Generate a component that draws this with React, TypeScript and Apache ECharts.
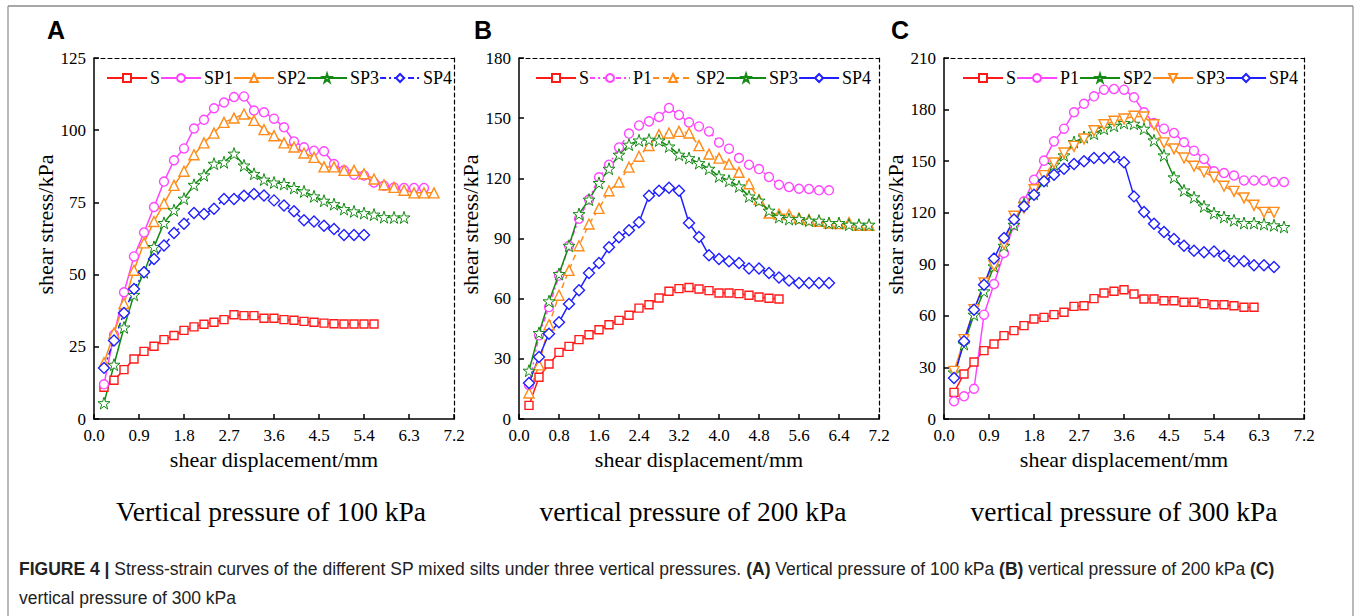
import React, { useEffect, useRef } from 'react';
import * as echarts from 'echarts';

// shear displacement steps (mm)
const displacement = [0.2, 0.4, 0.6, 0.8, 1.0, 1.2, 1.4, 1.6, 1.8, 2.0, 2.2, 2.4, 2.6, 2.8, 3.0, 3.2, 3.4, 3.6, 3.8, 4.0, 4.2, 4.4, 4.6, 4.8, 5.0, 5.2, 5.4, 5.6, 5.8, 6.0, 6.2, 6.4, 6.6, 6.8, 7.0];

// Panel A: vertical pressure 100 kPa
const aS = [11, 13.4, 17.1, 20.8, 23.4, 25.2, 27.5, 28.9, 30.7, 31.9, 32.8, 33.5, 34.4, 36.1, 35.8, 35.8, 34.9, 34.9, 34.4, 34.2, 33.8, 33.5, 33.2, 33.0, 32.9, 32.9, 32.9, 32.9];
const aSP1 = [12, 29.2, 43.9, 56.3, 64.6, 73.4, 82.2, 89.6, 93.7, 100.6, 103.6, 107.6, 109.6, 111.5, 111.7, 106.8, 106.2, 104, 101, 96.1, 94.1, 92.9, 92.7, 88.3, 86.1, 84.6, 84.3, 81.9, 80.8, 80.2, 80, 80, 80];
const aSP2 = [19.5, 29.8, 40, 51.5, 61, 68.4, 74.6, 80.9, 85.8, 91.5, 95.6, 99, 102.7, 104.2, 105.6, 103.4, 100.2, 98.1, 95.6, 94.2, 92.1, 90.6, 87.3, 87.3, 86.1, 86.1, 84.9, 83.1, 81.1, 80.2, 79.2, 78.3, 78.3, 78.3];
const aSP3 = [5.5, 18.8, 31.7, 43, 50.8, 59.6, 67.9, 72.3, 76.3, 81.1, 84.4, 88.4, 88.9, 91.9, 87.8, 84.9, 82.9, 81.9, 81.4, 80, 78.8, 77.1, 75.6, 74.4, 72.7, 71.9, 71.3, 70.8, 69.9, 69.8, 69.8];
const aSP4 = [17.7, 27.2, 36.7, 45, 50.8, 55.4, 60.1, 64.4, 67.6, 71.3, 71, 72.8, 76.2, 76.2, 77.3, 77.9, 77.4, 75.7, 73.9, 71.9, 68.8, 68.4, 66.9, 65.8, 63.7, 63.7, 63.7];

// Panel B: vertical pressure 200 kPa
const bS = [6.8, 20.8, 27.4, 33.2, 36.2, 39.6, 42, 44.5, 47, 49.2, 51.7, 55.3, 57, 60.3, 63.7, 65, 65.6, 64.8, 64, 62.8, 62.8, 62.5, 61.7, 60.8, 60.2, 59.8];
const bP1 = [17, 41.7, 55.8, 71.5, 86.4, 99.9, 109.4, 120.5, 126.8, 135.4, 142.3, 146.4, 148.4, 150.6, 155.1, 151.6, 147.9, 145.9, 143.4, 137.9, 134.8, 130.1, 126.8, 124.6, 120.7, 116.8, 115.7, 114.8, 114.7, 114, 114];
const bSP2 = [13, 27, 47, 61.7, 74.1, 86.4, 97.2, 105, 113.8, 118.2, 125.6, 131, 136.4, 141.8, 142.6, 143.4, 142.6, 136.3, 132.1, 130.1, 127.1, 123, 117.3, 109.4, 102.7, 102.2, 101.9, 100.2, 99.4, 98.6, 97.7, 97.4, 98, 96.6, 96.6];
const bSP3 = [24.1, 42.9, 58.7, 72.3, 86.4, 102.2, 109.4, 117.7, 124.8, 131.8, 136.8, 138.9, 139.3, 138.9, 135.9, 131.8, 130.1, 127.6, 124.8, 121, 118.8, 116, 111, 108.9, 103.9, 100.7, 99.7, 99.7, 98.9, 98.9, 97.7, 97.7, 96.9, 96.9, 96.9];
const bSP4 = [17.9, 30.9, 42.5, 48.2, 57.3, 64.2, 72.8, 77.8, 85.6, 90.6, 94.1, 98.1, 111.3, 113.8, 115.3, 113.8, 97.7, 90.7, 81.6, 79.8, 78.6, 77.8, 75, 75, 72.8, 70.6, 69, 67.8, 67.8, 67.8, 67.8];

// Panel C: vertical pressure 300 kPa
const cS = [15.5, 26.2, 33.2, 39.8, 43.6, 48.5, 51.4, 54.3, 58.2, 59.1, 60.7, 62.1, 65.5, 65.9, 70, 73.3, 74.3, 75.2, 72.7, 69.8, 69.8, 68.8, 68.8, 67.9, 67.9, 67.1, 66.5, 66.5, 65.9, 65, 65];
const cP1 = [10.3, 13.2, 17.6, 60.7, 78.5, 96.6, 113, 126.6, 139.2, 150.3, 161.5, 168.9, 178.4, 183.4, 187.7, 191.6, 192, 191.6, 187.1, 178.4, 172.2, 168.9, 166.4, 161, 156.1, 151.3, 144.1, 143.1, 141.6, 138.8, 138.8, 138.8, 137.9, 137.9];
const cSP2 = [27.1, 43.6, 60.7, 74.3, 88.8, 100.8, 113, 125.3, 131, 138.6, 148, 153.4, 161.1, 164, 166, 168.9, 170.6, 172.2, 171.8, 168.9, 162.1, 153.4, 140.6, 133, 129, 123.7, 119.8, 117.5, 115.6, 114, 114, 113.4, 112.7, 111.7];
const cSP3 = [27.7, 46.2, 63.6, 79.1, 89.2, 101.8, 117.9, 122.7, 133.4, 141.6, 148.9, 154.7, 158.6, 162.9, 167.7, 171.2, 173.2, 174.5, 176.1, 175.7, 171.2, 160.6, 157.1, 151.8, 147, 143.7, 140.6, 135.4, 132.4, 128.6, 124.3, 120.2, 120.2];
const cSP4 = [23.9, 45.2, 63.6, 78.1, 93.3, 105.3, 116, 123.7, 130.5, 138.3, 142.1, 145.6, 148.3, 149.9, 151.8, 151.8, 152.4, 149.3, 129.5, 120.4, 113.6, 108.8, 104.7, 100.8, 97.9, 97, 97.5, 95, 91.7, 91.7, 89.4, 89.4, 88.4];

// axis settings
const xMax = 7.2;
const xIntervals = [0.9, 0.8, 0.9];
const yMaxes = [125, 180, 210];
const yIntervals = [25, 30, 30];
const panelLetters = ['A', 'B', 'C'];
const panelTitles = ['Vertical pressure of 100 kPa', 'vertical pressure of 200 kPa', 'vertical pressure of 300 kPa'];
const xAxisName = 'shear displacement/mm';
const yAxisName = 'shear stress/kPa';

const RED = '#ff1a1a';
const MAGENTA = '#ff44ff';
const ORANGE = '#ff8c1a';
const GREEN = '#138a13';
const BLUE = '#1f1fff';

const STAR = 'path://M50,0 L61.8,36.2 L100,36.2 L69.1,58.8 L80.9,95.1 L50,72.6 L19.1,95.1 L30.9,58.8 L0,36.2 L38.2,36.2 Z';
const SERIF = '"Liberation Serif", "Times New Roman", serif';
const SANS = '"Liberation Sans", Arial, sans-serif';

type Spec = { name: string; vals: number[]; color: string; symbol: string; size: number; rotate?: number; dash?: any; bw?: number };

const panels: Spec[][] = [
  [
    { name: 'S', vals: aS, color: RED, symbol: 'rect', size: 8 },
    { name: 'SP1', vals: aSP1, color: MAGENTA, symbol: 'circle', size: 9 },
    { name: 'SP2', vals: aSP2, color: ORANGE, symbol: 'triangle', size: 10 },
    { name: 'SP3', vals: aSP3, color: GREEN, symbol: STAR, size: 12, bw: 1 },
    { name: 'SP4', vals: aSP4, color: BLUE, symbol: 'diamond', size: 11, dash: [6, 3, 2, 3] },
  ],
  [
    { name: 'S', vals: bS, color: RED, symbol: 'rect', size: 8 },
    { name: 'P1', vals: bP1, color: MAGENTA, symbol: 'circle', size: 9, dash: [5, 3, 2, 3] },
    { name: 'SP2', vals: bSP2, color: ORANGE, symbol: 'triangle', size: 10, dash: [6, 4] },
    { name: 'SP3', vals: bSP3, color: GREEN, symbol: STAR, size: 12, bw: 1 },
    { name: 'SP4', vals: bSP4, color: BLUE, symbol: 'diamond', size: 11 },
  ],
  [
    { name: 'S', vals: cS, color: RED, symbol: 'rect', size: 8 },
    { name: 'P1', vals: cP1, color: MAGENTA, symbol: 'circle', size: 9 },
    { name: 'SP2', vals: cSP2, color: GREEN, symbol: STAR, size: 12, bw: 1 },
    { name: 'SP3', vals: cSP3, color: ORANGE, symbol: 'triangle', size: 10, rotate: 180 },
    { name: 'SP4', vals: cSP4, color: BLUE, symbol: 'diamond', size: 11 },
  ],
];

const gridLefts = [94, 519, 944];
const gridTop = 58;
const gridW = 360;
const gridH = 361;
const legendLefts = [101, 530, 957];
const titleCenters = [271, 693, 1124];

function buildOption() {
  const grid: any[] = [];
  const xAxis: any[] = [];
  const yAxis: any[] = [];
  const legend: any[] = [];
  const series: any[] = [];
  const graphic: any[] = [];

  panels.forEach((specs, i) => {
    grid.push({ left: gridLefts[i], top: gridTop, width: gridW, height: gridH, containLabel: false });
    xAxis.push({
      type: 'value', gridIndex: i, min: 0, max: xMax, interval: xIntervals[i], position: 'bottom',
      axisLine: { show: true, onZero: false, lineStyle: { color: '#000', width: 1.5 } },
      axisTick: { show: true, inside: true, length: 5, lineStyle: { color: '#000', width: 1.5 } },
      axisLabel: { color: '#000', fontSize: 17, fontFamily: SERIF, margin: 8, formatter: (v: number) => v.toFixed(1) },
      splitLine: { show: false },
      name: xAxisName, nameLocation: 'middle', nameGap: 25,
      nameTextStyle: { fontSize: 22, fontFamily: SERIF, color: '#000' },
    });
    xAxis.push({
      type: 'value', gridIndex: i, min: 0, max: xMax, position: 'top',
      axisLine: { show: true, onZero: false, lineStyle: { color: '#000', width: 1.2, type: [4, 3] } },
      axisTick: { show: false }, axisLabel: { show: false }, splitLine: { show: false },
    });
    yAxis.push({
      type: 'value', gridIndex: i, min: 0, max: yMaxes[i], interval: yIntervals[i], position: 'left',
      axisLine: { show: true, onZero: false, lineStyle: { color: '#000', width: 1.5 } },
      axisTick: { show: true, inside: true, length: 5, lineStyle: { color: '#000', width: 1.5 } },
      axisLabel: { color: '#000', fontSize: 17, fontFamily: SERIF, margin: 8 },
      splitLine: { show: false },
      name: yAxisName, nameLocation: 'middle', nameGap: 32,
      nameTextStyle: { fontSize: 22, fontFamily: SERIF, color: '#000', padding: [0, 0, 0, 28] },
    });
    yAxis.push({
      type: 'value', gridIndex: i, min: 0, max: yMaxes[i], position: 'right',
      axisLine: { show: true, onZero: false, lineStyle: { color: '#000', width: 1.2, type: [4, 3] } },
      axisTick: { show: false }, axisLabel: { show: false }, splitLine: { show: false },
    });

    const names: string[] = [];
    specs.forEach((s) => {
      const full = panelLetters[i] + ':' + s.name;
      names.push(full);
      series.push({
        type: 'line', name: full, xAxisIndex: 2 * i, yAxisIndex: 2 * i,
        data: s.vals.map((v, k) => [displacement[k], v]),
        symbol: s.symbol, symbolSize: s.size, symbolRotate: s.rotate || 0, showAllSymbol: true,
        itemStyle: { color: '#fff', borderColor: s.color, borderWidth: s.bw || 1.4 },
        lineStyle: { color: s.color, width: 1.5, type: s.dash || 'solid' },
        emphasis: { disabled: true }, silent: true,
      });
    });
    legend.push({
      data: names, left: legendLefts[i], top: 64, orient: 'horizontal',
      itemWidth: 40, itemHeight: 10, itemGap: 0, selectedMode: false,
      formatter: (n: string) => n.split(':')[1],
      textStyle: { fontSize: 18, fontFamily: SERIF, color: '#000', padding: [0, 0, 0, -2] },
    });

    graphic.push({
      type: 'text', x: [47, 474, 891][i], y: 30,
      style: { text: panelLetters[i], font: 'bold 25px ' + SANS, fill: '#000', align: 'left', verticalAlign: 'middle' },
    });
    graphic.push({
      type: 'text', x: titleCenters[i], y: 511,
      style: { text: panelTitles[i], font: '27.5px ' + SERIF, fill: '#000', align: 'center', verticalAlign: 'middle' },
    });
  });

  // outer frame
  graphic.push({ type: 'line', shape: { x1: 8, y1: 6, x2: 1353, y2: 6 }, style: { stroke: '#8a8a8a', lineWidth: 1.5 } });
  graphic.push({ type: 'line', shape: { x1: 8, y1: 6, x2: 8, y2: 616 }, style: { stroke: '#8a8a8a', lineWidth: 1.2 } });
  graphic.push({ type: 'line', shape: { x1: 1353, y1: 6, x2: 1353, y2: 616 }, style: { stroke: '#8a8a8a', lineWidth: 1.2 } });

  // caption
  graphic.push({
    type: 'text', x: 19, y: 569,
    style: {
      text: '{b|FIGURE 4 |} Stress-strain curves of the different SP mixed silts under three vertical pressures. {b|(A)} Vertical pressure of 100 kPa {b|(B)} vertical pressure of 200 kPa {b|(C)}',
      font: '17.5px ' + SANS, fill: '#222', align: 'left', verticalAlign: 'middle',
      rich: { b: { font: 'bold 17.5px ' + SANS, fill: '#222' } },
    },
  });
  graphic.push({
    type: 'text', x: 19, y: 598,
    style: { text: 'vertical pressure of 300 kPa', font: '17.5px ' + SANS, fill: '#222', align: 'left', verticalAlign: 'middle' },
  });

  return {
    animation: false,
    backgroundColor: '#fff',
    textStyle: { fontFamily: SERIF },
    grid, xAxis, yAxis, legend, series, graphic,
  };
}

export default function App() {
  const ref = useRef<HTMLDivElement>(null);
  useEffect(() => {
    if (!ref.current) return;
    const chart = echarts.init(ref.current, null as any, { renderer: 'svg' });
    chart.setOption(buildOption() as any);
    return () => chart.dispose();
  }, []);
  return <div ref={ref} style={{ position: 'absolute', left: 0, top: 0, width: 1356, height: 616 }} />;
}
